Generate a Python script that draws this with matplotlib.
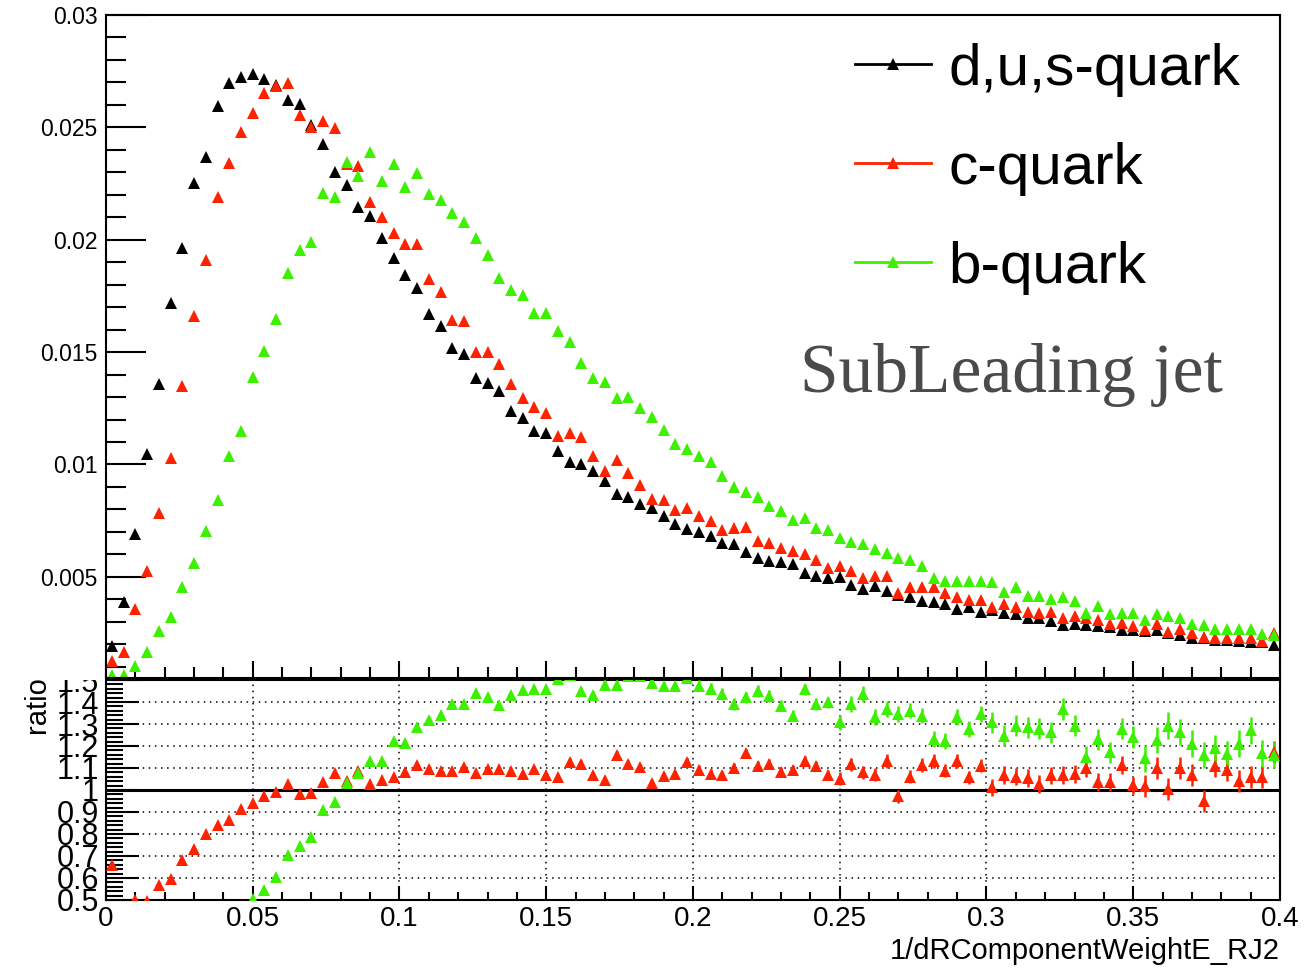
import numpy as np
import matplotlib.pyplot as plt
from matplotlib.lines import Line2D
from matplotlib.patches import Rectangle
from matplotlib.ticker import MultipleLocator, StrMethodFormatter

plt.rcParams['font.family'] = ['Liberation Sans', 'DejaVu Sans']

# histogram binning: 100 bins on [0, 0.4]
n_bins = 100
x_lo, x_hi = 0.0, 0.4

# normalised distributions
dus = [0.00191, 0.00387, 0.0069, 0.01047, 0.01358, 0.01718, 0.01965, 0.02253, 0.02368, 0.02597,
       0.02698, 0.02724, 0.02738, 0.02715, 0.02689, 0.02624, 0.02606, 0.02509, 0.02426, 0.02302,
       0.02244, 0.02147, 0.02106, 0.02006, 0.01918, 0.01842, 0.01785, 0.0167, 0.01617, 0.0152,
       0.01492, 0.01387, 0.01364, 0.01325, 0.01239, 0.01205, 0.01149, 0.01142, 0.0106, 0.01012,
       0.0100, 0.00971, 0.00927, 0.00869, 0.00856, 0.00825, 0.00805, 0.00773, 0.00736, 0.00713,
       0.0070, 0.00684, 0.00649, 0.00646, 0.0061, 0.00586, 0.0057, 0.00565, 0.00555, 0.00517,
       0.00505, 0.00493, 0.005, 0.00463, 0.00448, 0.00459, 0.00438, 0.00419, 0.00411, 0.00393,
       0.00389, 0.00381, 0.00355, 0.00367, 0.00344, 0.00352, 0.00337, 0.00334, 0.00319, 0.00315,
       0.00304, 0.00285, 0.00292, 0.00285, 0.00282, 0.00277, 0.00263, 0.00263, 0.0026, 0.00263,
       0.00251, 0.0024, 0.00226, 0.00226, 0.00218, 0.00218, 0.00215, 0.00211, 0.00208, 0.00196]
cq = [0.00126, 0.00167, 0.00356, 0.00527, 0.00783, 0.0103, 0.01349, 0.01662, 0.01909, 0.02188,
      0.02341, 0.02479, 0.02562, 0.02654, 0.02682, 0.02698, 0.02553, 0.025, 0.0253, 0.02496,
      0.02336, 0.02329, 0.0217, 0.021, 0.02029, 0.01983, 0.01983, 0.01825, 0.01767, 0.01645,
      0.01638, 0.015, 0.015, 0.01445, 0.01356, 0.01298, 0.01255, 0.01231, 0.01126, 0.01142,
      0.01122, 0.01036, 0.00969, 0.0102, 0.00961, 0.00908, 0.00845, 0.00841, 0.00799, 0.00805,
      0.00773, 0.00747, 0.00708, 0.00716, 0.00724, 0.00661, 0.00649, 0.00627, 0.00617, 0.00602,
      0.00575, 0.0054, 0.00549, 0.00527, 0.00497, 0.00503, 0.00503, 0.00426, 0.00456, 0.00456,
      0.00453, 0.00429, 0.00411, 0.00396, 0.00399, 0.00367, 0.00378, 0.00367, 0.00344, 0.00337,
      0.00344, 0.00315, 0.00327, 0.00315, 0.00307, 0.00292, 0.00295, 0.0028, 0.0027, 0.00292,
      0.00255, 0.0027, 0.00251, 0.00233, 0.00226, 0.00226, 0.00226, 0.00226, 0.00216, 0.00251]
bq = [0.00062, 0.00062, 0.00105, 0.00167, 0.00259, 0.00323, 0.00455, 0.00562, 0.00703, 0.00844,
      0.01038, 0.01147, 0.01388, 0.01503, 0.01647, 0.0185, 0.01956, 0.01992, 0.02209, 0.02188,
      0.02345, 0.02285, 0.02389, 0.02262, 0.02336, 0.02235, 0.02298, 0.02202, 0.02176, 0.02117,
      0.0208, 0.02008, 0.01934, 0.01829, 0.01778, 0.01755, 0.01673, 0.01673, 0.01595, 0.01544,
      0.0145, 0.01387, 0.01367, 0.01294, 0.01301, 0.01252, 0.01211, 0.01153, 0.01091, 0.0107,
      0.01039, 0.01012, 0.0095, 0.00899, 0.00877, 0.00856, 0.00817, 0.00794, 0.00755, 0.00762,
      0.00716, 0.00709, 0.00674, 0.00656, 0.00646, 0.00622, 0.00604, 0.00582, 0.00574, 0.00548,
      0.00493, 0.00482, 0.00482, 0.00482, 0.00482, 0.00475, 0.00433, 0.00453, 0.00416, 0.00416,
      0.00401, 0.00411, 0.00393, 0.00341, 0.0037, 0.00334, 0.00341, 0.00341, 0.00307, 0.00334,
      0.00327, 0.00319, 0.00292, 0.00285, 0.00267, 0.00267, 0.00267, 0.00267, 0.00245, 0.0024]

# ratios to d,u,s as drawn in the lower pad
ratio_c = [0.66, 0.43, 0.50, 0.497, 0.57, 0.595, 0.68, 0.73, 0.80, 0.84,
           0.865, 0.915, 0.94, 0.972, 0.99, 1.029, 0.981, 0.987, 1.037, 1.079,
           1.04, 1.088, 1.029, 1.047, 1.057, 1.082, 1.113, 1.097, 1.087, 1.088,
           1.103, 1.077, 1.094, 1.094, 1.085, 1.072, 1.094, 1.069, 1.058, 1.129,
           1.12, 1.069, 1.045, 1.16, 1.12, 1.103, 1.032, 1.062, 1.072, 1.129,
           1.092, 1.073, 1.066, 1.102, 1.166, 1.111, 1.117, 1.084, 1.091, 1.133,
           1.111, 1.069, 1.051, 1.117, 1.08, 1.07, 1.132, 0.972, 1.061, 1.114,
           1.132, 1.087, 1.132, 1.057, 1.111, 1.012, 1.069, 1.061, 1.054, 1.027,
           1.066, 1.069, 1.072, 1.099, 1.036, 1.036, 1.114, 1.021, 1.016, 1.102,
           1.006, 1.102, 1.069, 0.952, 1.111, 1.091, 1.039, 1.061, 1.061, 1.171]
ratio_b = [0.33, 0.16, 0.15, 0.16, 0.19, 0.19, 0.23, 0.25, 0.30, 0.33,
           0.38, 0.42, 0.503, 0.545, 0.603, 0.704, 0.745, 0.787, 0.911, 0.946,
           1.032, 1.075, 1.132, 1.132, 1.223, 1.214, 1.287, 1.32, 1.343, 1.393,
           1.393, 1.442, 1.424, 1.388, 1.433, 1.453, 1.46, 1.46, 1.505, 1.525,
           1.452, 1.434, 1.478, 1.478, 1.52, 1.517, 1.487, 1.473, 1.472, 1.51,
           1.475, 1.461, 1.436, 1.391, 1.421, 1.45, 1.428, 1.383, 1.338, 1.458,
           1.391, 1.398, 1.308, 1.391, 1.436, 1.331, 1.368, 1.346, 1.361, 1.338,
           1.231, 1.222, 1.331, 1.278, 1.346, 1.308, 1.246, 1.293, 1.286, 1.278,
           1.263, 1.368, 1.293, 1.151, 1.231, 1.171, 1.278, 1.241, 1.144, 1.226,
           1.293, 1.263, 1.211, 1.159, 1.189, 1.162, 1.211, 1.271, 1.166, 1.159]
# rough size of the ratio error bars, one value per 0.05 wide range
ratio_c_err_seg = [0.012, 0.008, 0.01, 0.015, 0.022, 0.03, 0.04, 0.05]
ratio_b_err_seg = [0.02, 0.01, 0.012, 0.018, 0.026, 0.035, 0.048, 0.06]

labels = ['d,u,s-quark', 'c-quark', 'b-quark']
colors = ['#000000', '#fe2200', '#3cf000']

edges = np.linspace(x_lo, x_hi, n_bins + 1)
x = 0.5 * (edges[:-1] + edges[1:])
seg = np.minimum((x / 0.05).astype(int), len(ratio_c_err_seg) - 1)
err_c = np.array(ratio_c_err_seg)[seg]
err_b = np.array(ratio_b_err_seg)[seg]

fig = plt.figure(figsize=(13.1, 9.68), dpi=100)
ax1 = fig.add_axes([0.0809, 0.2996, 0.8962, 0.6849])
ax2 = fig.add_axes([0.0809, 0.0703, 0.8962, 0.2272])
# upper pad sits on top of the lower one, its margin hides half of the "1.5" label
ax1.set_zorder(2)
ax2.set_zorder(1)
fig.patches.append(Rectangle((0, 0.2975), 0.0805, 0.03, transform=fig.transFigure,
                             facecolor='white', edgecolor='none', zorder=1.5))

ms = 8.8
for ys, c in zip([dus, cq, bq], colors):
    ax1.plot(x, ys, ls='none', marker='^', ms=ms, mew=0, color=c)

ax1.set_xlim(x_lo, x_hi)
ax1.set_ylim(0.0005, 0.03)
ax1.xaxis.set_major_locator(MultipleLocator(0.05))
ax1.xaxis.set_minor_locator(MultipleLocator(0.01))
ax1.yaxis.set_major_locator(MultipleLocator(0.005))
ax1.yaxis.set_minor_locator(MultipleLocator(0.001))
ax1.yaxis.set_major_formatter(StrMethodFormatter('{x:g}'))
ax1.tick_params(axis='y', which='major', direction='in', length=29, width=1.5,
                labelsize=16.5, pad=6)
ax1.tick_params(axis='y', which='minor', direction='in', length=14.5, width=1.5)
ax1.tick_params(axis='x', which='major', direction='in', length=12, width=1.5,
                labelbottom=False)
ax1.tick_params(axis='x', which='minor', direction='in', length=8, width=1.5)
for s in ax1.spines.values():
    s.set_linewidth(1.5)

handles = [Line2D([], [], color=c, marker='^', ms=ms, mew=0, lw=2) for c in colors]
ax1.legend(handles, labels, loc='upper left', bbox_to_anchor=(0.638, 0.958),
           frameon=False, fontsize=42, handlelength=1.3, handletextpad=0.3,
           labelspacing=0.77, borderpad=0, borderaxespad=0)
ax1.text(0.591, 0.431, 'SubLeading jet', transform=ax1.transAxes,
         family=['Liberation Serif', 'DejaVu Serif'], fontsize=50,
         color='#4a4a4a', va='baseline', ha='left')

# ratio pad
ax2.grid(True, which='major', color='k', ls=(0, (1, 3)), lw=1.1)
ax2.axhline(1.0, color='k', lw=2.2, zorder=2)
ax2.errorbar(x, ratio_c, yerr=err_c, fmt='^', ms=ms, mew=0, color=colors[1],
             elinewidth=1.8, capsize=0, zorder=3)
ax2.errorbar(x, ratio_b, yerr=err_b, fmt='^', ms=ms, mew=0, color=colors[2],
             elinewidth=1.8, capsize=0, zorder=3)

ax2.set_xlim(x_lo, x_hi)
ax2.set_ylim(0.5, 1.5)
ax2.xaxis.set_major_locator(MultipleLocator(0.05))
ax2.xaxis.set_minor_locator(MultipleLocator(0.01))
ax2.yaxis.set_major_locator(MultipleLocator(0.1))
ax2.yaxis.set_minor_locator(MultipleLocator(0.02))
ax2.xaxis.set_major_formatter(StrMethodFormatter('{x:g}'))
ax2.yaxis.set_major_formatter(StrMethodFormatter('{x:g}'))
ax2.tick_params(axis='y', which='major', direction='in', length=24, width=1.5,
                labelsize=22, pad=5)
ax2.tick_params(axis='y', which='minor', direction='in', length=12, width=1.5)
ax2.tick_params(axis='x', which='major', direction='in', length=10, width=1.5,
                labelsize=20, pad=4)
ax2.tick_params(axis='x', which='minor', direction='in', length=6, width=1.5)
for s in ax2.spines.values():
    s.set_linewidth(1.5)

ax2.set_ylabel('ratio', fontsize=21)
ax2.yaxis.set_label_coords(-0.047, 0.89)
ax2.set_xlabel('1/dRComponentWeightE_RJ2', fontsize=21, ha='right')
ax2.xaxis.set_label_coords(1.0, -0.17)

fig.savefig('out.png', dpi=100)
